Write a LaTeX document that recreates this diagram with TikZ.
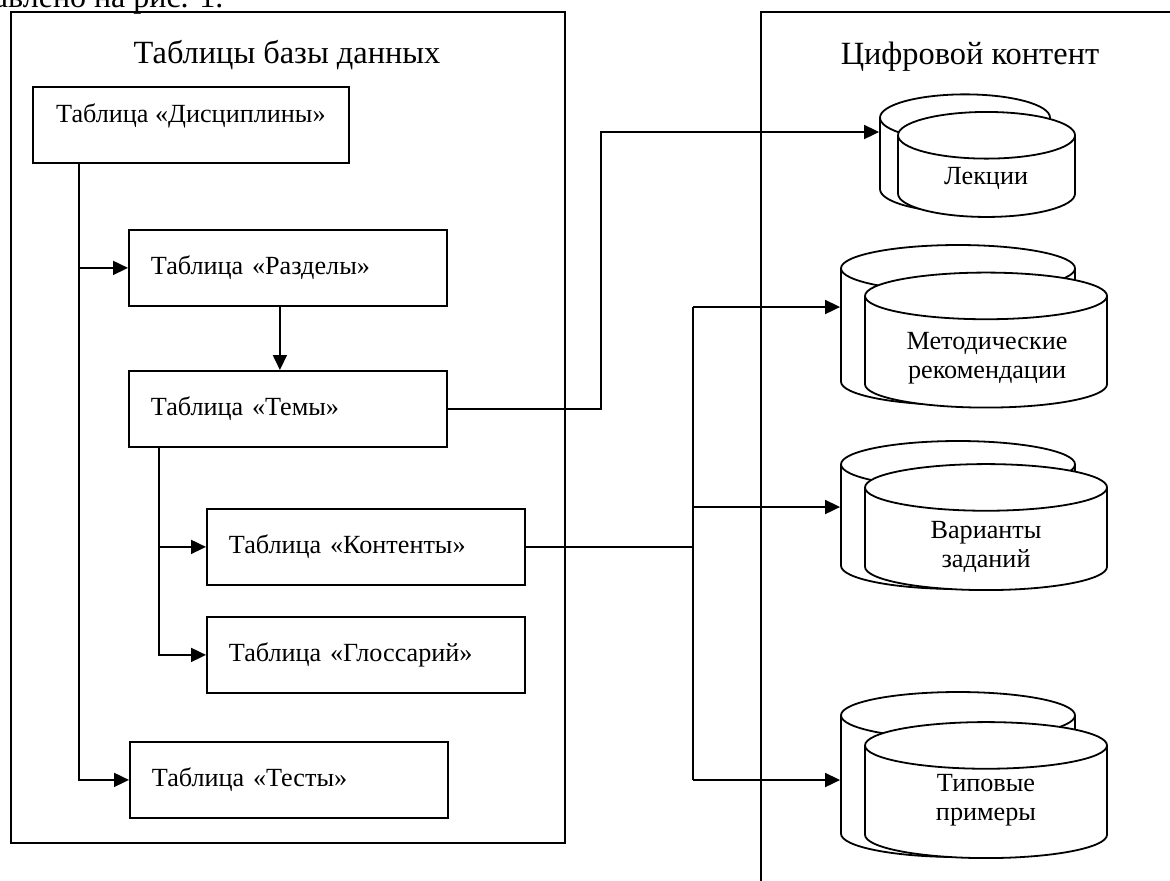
\documentclass[tikz,border=0pt]{standalone}
\usepackage{fontspec}
\setmainfont{Liberation Serif}
\usetikzlibrary{arrows.meta, positioning, shapes.geometric}
\tikzset{
  >={Triangle[length=7.5pt,width=7pt]}, % filled arrow heads
  every node/.style={font=\fontsize{13.1}{14.5}\selectfont},
  tablebox/.style={draw, anchor=north west, minimum height=38pt,
    text width=137pt, inner xsep=11pt, align=left}, % the db tables
  topbox/.style={draw, anchor=north west, minimum width=158pt,
    minimum height=38pt, text depth=12pt}, % table on top, text at top
  store/.style={cylinder, shape border rotate=90, draw, fill=white,
    aspect=3.5}, % content storage
  heading/.style={anchor=base, font=\fontsize{16.2}{18}\selectfont},
}
\begin{document}
\begin{tikzpicture}[x=0.5pt, y=-0.5pt, line width=0.9pt]
  \useasboundingbox (0,0) rectangle (1170,880);
  \clip (0,0) rectangle (1170,880);

  % line of the text above the figure
  \node[anchor=base east, font=\fontsize{16}{18}\selectfont] (prevline)
    at (231,7) {представлено на рис. 1.};

  % frames
  \draw (11,12) rectangle (565,843);
  \draw (761,12) rectangle (1185,900);
  \node[heading] (dbtitle) at (287,63) {Таблицы базы данных};
  \node[heading] (ctitle) at (970,64) {Цифровой контент};

  % tables
  \node[topbox] (disc) at (32,86) {Таблица «Дисциплины»};
  \node[tablebox] (razd) at (128,229) {Таблица «Разделы»};
  \node[tablebox] (temy) at (128,370) {Таблица «Темы»};
  \node[tablebox] (kont) at (206,508) {Таблица «Контенты»};
  \node[tablebox] (gloss) at (206,616) {Таблица «Глоссарий»};
  \node[tablebox] (tests) at (129,741) {Таблица «Тесты»};

  % content stores, back one first
  \node[store, minimum width=85pt, minimum height=59pt] (lekB) at (965,170) {};
  \node[store, minimum width=88.5pt, minimum height=52.5pt] (lekF) at (986.5,181) {};
  \node[store, minimum width=117pt, minimum height=80pt] (metB) at (958,341) {};
  \node[store, minimum width=121pt, minimum height=67.5pt] (metF) at (986,356) {};
  \node[store, minimum width=117pt, minimum height=74pt] (varB) at (958,531) {};
  \node[store, minimum width=121pt, minimum height=63pt] (varF) at (986,543) {};
  \node[store, minimum width=117pt, minimum height=82.5pt] (tipB) at (958,790.5) {};
  \node[store, minimum width=121pt, minimum height=68pt] (tipF) at (986,806) {};
  \node[align=center] (lekT) at (986,178) {Лекции};
  \node[align=center] (metT) at (987,358) {Методические\\рекомендации};
  \node[align=center] (varT) at (986,547) {Варианты\\заданий};
  \node[align=center] (tipT) at (986,800) {Типовые\\примеры};

  % where the lines run
  \coordinate (trunk) at (79,0);
  \coordinate (branch) at (159,0);
  \coordinate (riser) at (601,0);
  \coordinate (bus) at (693,0);
  \coordinate (lekIn) at (lekB.west |- 0,132);
  \coordinate (metIn) at (metB.west |- 0,307);
  \coordinate (varIn) at (varB.west |- 0,507);
  \coordinate (tipIn) at (tipB.west |- 0,780);

  \draw[->] (disc.south -| trunk) |- (tests);
  \draw[->] (trunk |- razd) -- (razd);
  \draw[->] ([xshift=-4pt]razd.south) -- ([xshift=-4pt]temy.north);
  \draw[->] (temy.south -| branch) |- (gloss);
  \draw[->] (branch |- kont) -- (kont);

  \draw[->] (temy.east) -- (temy.east -| riser) |- (lekIn);
  \draw (kont.east) -- (kont.east -| bus);
  \draw (bus |- metIn) -- (bus |- tipIn);
  \draw[->] (bus |- metIn) -- (metIn);
  \draw[->] (bus |- varIn) -- (varIn);
  \draw[->] (bus |- tipIn) -- (tipIn);
\end{tikzpicture}
\end{document}
